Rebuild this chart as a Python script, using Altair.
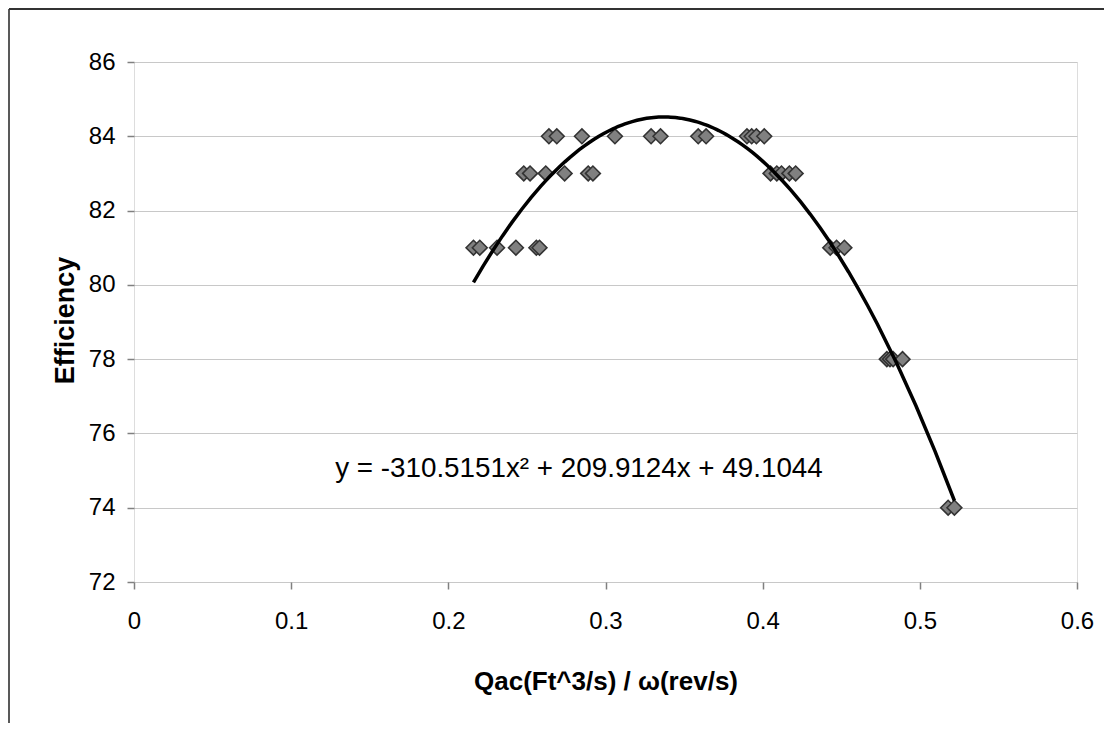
import altair as alt
import pandas as pd

# Data
x84 = [0.264, 0.269, 0.285, 0.306, 0.329, 0.335, 0.359, 0.364, 0.390, 0.393, 0.396, 0.401]
x83 = [0.248, 0.252, 0.262, 0.274, 0.289, 0.292, 0.405, 0.409, 0.412, 0.417, 0.421]
x81 = [0.216, 0.220, 0.231, 0.243, 0.256, 0.258, 0.443, 0.447, 0.452]
x78 = [0.479, 0.481, 0.483, 0.489]
x74 = [0.518, 0.522]

xs = x84 + x83 + x81 + x78 + x74
ys = [84] * len(x84) + [83] * len(x83) + [81] * len(x81) + [78] * len(x78) + [74] * len(x74)
df = pd.DataFrame({"q": xs, "eff": ys})

eq_text = ["y = -310.5151x² + 209.9124x + 49.1044"]
eq_x = [0.128]
eq_y = [74.83]
eq = pd.DataFrame({"label": eq_text, "q": eq_x, "eff": eq_y})

y_ticks = [72, 74, 76, 78, 80, 82, 84, 86]
x_ticks = [0, 0.1, 0.2, 0.3, 0.4, 0.5, 0.6]

FONT = "Liberation Sans"

xscale = alt.Scale(domain=[0, 0.6], nice=False, zero=False)
yscale = alt.Scale(domain=[72, 86], nice=False, zero=False)

xaxis = alt.Axis(
    values=x_ticks, title="Qac(Ft^3/s) / ω(rev/s)", grid=False, domain=False,
    tickColor="#808080", tickSize=7, tickWidth=1.5, labelPadding=20,
    labelFont=FONT, labelFontSize=24, labelColor="#000",
    titleFont=FONT, titleFontSize=26, titleFontWeight="bold", titleColor="#000",
    titleX=471.5, titleY=107, titleBaseline="alphabetic", titleAlign="center",
    labelFlush=False, labelExpr="datum.value == 0 ? '0' : format(datum.value, '.1f')",
)
yaxis = alt.Axis(
    values=y_ticks, title="Efficiency", grid=True, gridColor="#c8c8c8", gridWidth=1,
    domain=False, tickColor="#808080", tickSize=7, tickWidth=1.5, labelPadding=12,
    labelFont=FONT, labelFontSize=24, labelColor="#000",
    titleFont=FONT, titleFontSize=27, titleFontWeight="bold", titleColor="#000",
    titleAngle=-90, titleX=-61, titleY=258, titleAlign="center", titleBaseline="alphabetic",
)

base = alt.Chart(df)

pts = base.mark_point(
    shape="diamond", filled=True, size=220, fill="#808080", stroke="#333333",
    strokeWidth=1.6, opacity=1,
).encode(
    x=alt.X("q:Q", scale=xscale, axis=xaxis),
    y=alt.Y("eff:Q", scale=yscale, axis=yaxis),
)

trend = base.transform_regression(
    "q", "eff", method="poly", order=2
).mark_line(color="#000000", strokeWidth=3.5).encode(
    x=alt.X("q:Q", scale=xscale),
    y=alt.Y("eff:Q", scale=yscale),
)

eq_mark = alt.Chart(eq).mark_text(
    align="left", baseline="alphabetic", font=FONT, fontSize=27.8, color="#000"
).encode(
    x=alt.X("q:Q", scale=xscale),
    y=alt.Y("eff:Q", scale=yscale),
    text="label:N",
)

frame_v = alt.Chart(eq).mark_rule(color="#222222", strokeWidth=1.5).encode(
    x=alt.value(-125), y=alt.value(-53), y2=alt.value(661)
)
frame_h = alt.Chart(eq).mark_rule(color="#333333", strokeWidth=2).encode(
    x=alt.value(-125), x2=alt.value(970), y=alt.value(-53)
)

chart = alt.layer(pts, trend, eq_mark, frame_v, frame_h).properties(
    width=943, height=520,
    autosize=alt.AutoSizeParams(type="none"),
    padding={"left": 126, "top": 54, "right": 27, "bottom": 141},
).configure_view(
    stroke="#8c8c8c", strokeWidth=2
).configure(background="white")

chart.save("out.html", embed_options={"renderer": "svg", "actions": False})
